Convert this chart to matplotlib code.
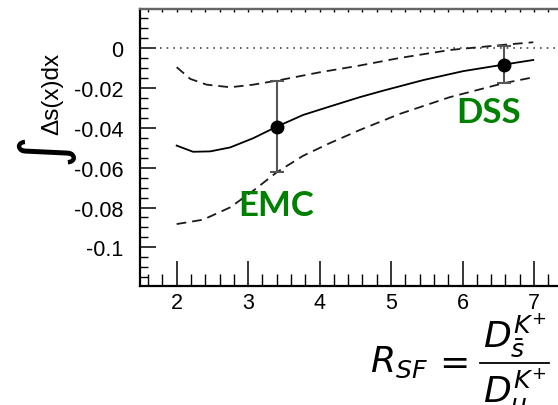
import matplotlib
matplotlib.use("Agg")
import matplotlib.pyplot as plt
from matplotlib.lines import Line2D
from matplotlib.ticker import MultipleLocator, FixedLocator, FixedFormatter

plt.rcParams['lines.scale_dashes'] = False
plt.rcParams['axes.unicode_minus'] = False
plt.rcParams['mathtext.fontset'] = 'dejavusans'

# central curve
central_x = [2.00, 2.23, 2.47, 2.75, 3.07, 3.40, 3.77, 4.14, 4.56, 4.89, 5.45, 6.01, 6.58, 6.99]
central_y = [-0.0489, -0.0520, -0.0518, -0.0498, -0.0452, -0.0394, -0.0335, -0.0293,
             -0.0246, -0.0213, -0.0160, -0.0115, -0.0082, -0.0059]
# upper band
upper_x = [2.00, 2.19, 2.42, 2.75, 3.07, 3.40, 4.00, 4.56, 5.12, 5.82, 6.57, 6.99]
upper_y = [-0.0095, -0.0154, -0.0183, -0.0196, -0.0183, -0.0163, -0.0121, -0.0087,
           -0.0049, -0.0009, 0.0017, 0.0030]
# lower band
lower_x = [2.00, 2.37, 2.75, 3.07, 3.40, 3.77, 4.14, 4.56, 5.12, 5.82, 6.57, 6.99]
lower_y = [-0.0883, -0.0861, -0.0799, -0.0716, -0.0623, -0.0540, -0.0477, -0.0411,
           -0.0330, -0.0246, -0.0176, -0.0146]
# points
point_names = ["EMC", "DSS"]
point_x = [3.40, 6.58]
point_y = [-0.0394, -0.0082]
point_err = [0.0230, 0.0095]

ytick_vals = [0, -0.02, -0.04, -0.06, -0.08, -0.1]
ytick_labels = ["0", "-0.02", "-0.04", "-0.06", "-0.08", "-0.1"]
xtick_vals = [2, 3, 4, 5, 6, 7]
xtick_labels = ["2", "3", "4", "5", "6", "7"]

W, H = 558, 406
fig = plt.figure(figsize=(W / 100, H / 100), dpi=100)
ax = fig.add_axes([140 / W, 1 - 287 / H, (W - 140) / W, (287 - 10) / H])

ax.set_xlim(1.487, 7.336)
ax.set_ylim(-0.1194, 0.0197)

ax.axhline(0, color='#444444', lw=1.2, linestyle=(0, (1.2, 3.6)))
ax.plot(central_x, central_y, color='black', lw=1.3)
ax.plot(upper_x, upper_y, color='#1a1a1a', lw=1.3, linestyle=(0, (7, 4.3)))
ax.plot(lower_x, lower_y, color='#1a1a1a', lw=1.3, linestyle=(0, (7, 4.3)))
ax.errorbar(point_x, point_y, yerr=point_err, fmt='none', ecolor='#555555',
            elinewidth=1.5, capsize=5, capthick=1.5, zorder=4)
ax.plot(point_x, point_y, 'o', color='black', markersize=9, zorder=5)

font_lab = 'Liberation Sans'
ax.yaxis.set_major_locator(FixedLocator(ytick_vals))
ax.yaxis.set_major_formatter(FixedFormatter(ytick_labels))
ax.yaxis.set_minor_locator(MultipleLocator(0.005))
ax.xaxis.set_major_locator(FixedLocator(xtick_vals))
ax.xaxis.set_major_formatter(FixedFormatter(xtick_labels))
ax.xaxis.set_minor_locator(MultipleLocator(0.2))

ax.tick_params(axis='y', which='major', direction='in', length=11.5, width=1.1, pad=12)
ax.tick_params(axis='y', which='minor', direction='in', length=6, width=1.0)
ax.tick_params(axis='x', which='major', direction='in', length=18, width=1.1, pad=4)
ax.tick_params(axis='x', which='minor', direction='in', length=8.6, width=1.0)
for lab in ax.get_xticklabels() + ax.get_yticklabels():
    lab.set_fontfamily(font_lab)
    lab.set_fontsize(15.5)

ax.spines['right'].set_visible(False)
ax.spines['left'].set_linewidth(1.6)
ax.spines['bottom'].set_linewidth(1.6)
ax.spines['top'].set_color('#666666')
ax.spines['top'].set_linewidth(1.6)

sec = ax.secondary_xaxis('top')
sec.set_xticks([v / 5 for v in range(8, 37)])
sec.set_xticklabels([])
sec.tick_params(direction='in', length=2, width=1.0)
sec.spines['top'].set_color('#666666')
sec.spines['top'].set_linewidth(1.6)

# labels on points
ax.text(3.39, -0.0786, point_names[0], color='green', fontsize=25,
        fontfamily='Lato', fontweight='bold', ha='center', va='center')
ax.text(6.37, -0.0318, point_names[1], color='green', fontsize=25,
        fontfamily='Lato', fontweight='bold', ha='center', va='center')

# y label
fig.text(52 / W, 1 - 94 / H, "Δs(x)dx", rotation=90, ha='center', va='center',
         fontsize=17.5, fontfamily=font_lab)
fig.text(44 / W, 1 - 148 / H, "∫", rotation=90, ha='center', va='center',
         fontsize=44, fontfamily='DejaVu Sans')

# x label formula (pieces)
fig.text(370 / W, 1 - 372 / H, r'$R_{SF}$', ha='left', va='baseline', fontsize=26)
fig.text(450 / W, 1 - 372 / H, r'$=$', ha='center', va='baseline', fontsize=26)
fig.text(483 / W, 1 - 348 / H, r'$D_{\bar{s}}^{K^{+}}$', ha='left', va='baseline', fontsize=26)
fig.text(483 / W, 1 - 403 / H, r'$D_{u}^{K^{+}}$', ha='left', va='baseline', fontsize=26)
fig.add_artist(Line2D([480 / W, 549 / W], [1 - 364 / H, 1 - 364 / H],
                      transform=fig.transFigure, color='black', lw=1.3))

fig.savefig("out.png", dpi=100)
